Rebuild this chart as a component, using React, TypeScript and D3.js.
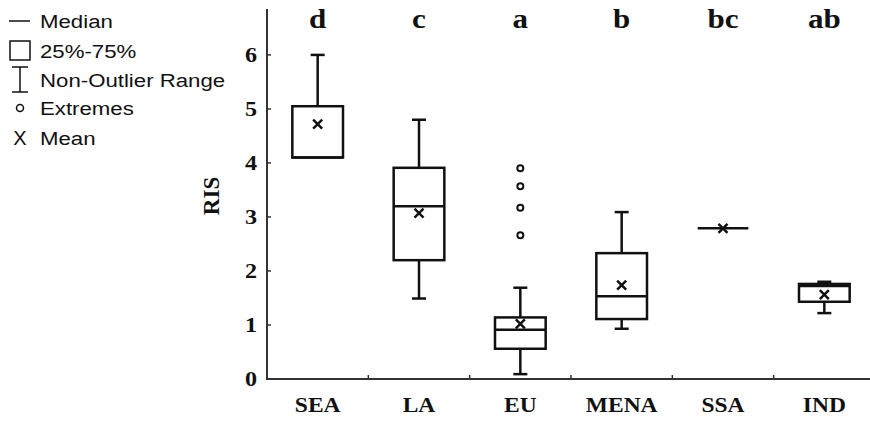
import React, { useEffect, useRef } from 'react';
import * as d3 from 'd3';

const categories = ['SEA', 'LA', 'EU', 'MENA', 'SSA', 'IND'];
const groupLetters = ['d', 'c', 'a', 'b', 'bc', 'ab'];
const whiskerLow = [4.1, 1.49, 0.09, 0.93, 2.79, 1.22];
const q1 = [4.1, 2.2, 0.56, 1.11, 2.79, 1.43];
const median = [4.1, 3.2, 0.91, 1.53, 2.79, 1.72];
const q3 = [5.05, 3.91, 1.14, 2.33, 2.79, 1.76];
const whiskerHigh = [6.0, 4.8, 1.69, 3.09, 2.79, 1.8];
const means = [4.72, 3.07, 1.02, 1.74, 2.79, 1.56];
const extremes = [[], [], [2.66, 3.17, 3.57, 3.9], [], [], []];
const yTicks = [0, 1, 2, 3, 4, 5, 6];
const legendItems = ['Median', '25%-75%', 'Non-Outlier Range', 'Extremes', 'Mean'];

export default function App() {
  const svgRef = useRef<SVGSVGElement>(null);

  useEffect(() => {
    document.body.style.margin = '0';
    if (!svgRef.current) return;
    const svg = d3.select(svgRef.current);
    svg.selectAll('*').remove();

    const serif = '"Liberation Serif", "Times New Roman", serif';
    const sans = '"Liberation Sans", Arial, sans-serif';
    const ink = '#111';

    // the original picture is slightly stretched sideways, so text gets a small x-scale
    const label = (
      px: number, py: number, t: string | number, size: number, family: string,
      anchor: string, sx: number, bold = true,
    ) =>
      svg.append('text')
        .attr('transform', `translate(${px},${py}) scale(${sx},1)`)
        .attr('dy', '0.35em').attr('text-anchor', anchor)
        .attr('font-family', family).attr('font-weight', bold ? 'bold' : 'normal')
        .attr('font-size', size).attr('fill', ink).text(t);

    const x = d3.scaleBand<string>().domain(categories).range([267, 875]).padding(0);
    const y = d3.scaleLinear().domain([0, 6.85]).range([379, 9]);
    const bw = x.bandwidth() * 0.5;
    const capW = 14;
    const cx = (i: number) => x(categories[i])! + x.bandwidth() / 2;

    // axes
    svg.append('line').attr('x1', 267).attr('x2', 267).attr('y1', y(6.85)).attr('y2', y(0))
      .attr('stroke', '#333').attr('stroke-width', 2);
    svg.append('line').attr('x1', 266).attr('x2', 870).attr('y1', y(0)).attr('y2', y(0))
      .attr('stroke', '#333').attr('stroke-width', 2);

    yTicks.forEach((t) => {
      svg.append('line').attr('x1', 267).attr('x2', 271).attr('y1', y(t)).attr('y2', y(t))
        .attr('stroke', '#333').attr('stroke-width', 1.5);
      label(257, y(t), t, 21, serif, 'end', 1.15);
    });

    categories.forEach((c, i) => {
      const bx = x(c)!;
      if (i > 0) {
        svg.append('line').attr('x1', bx).attr('x2', bx).attr('y1', y(0)).attr('y2', y(0) - 4)
          .attr('stroke', '#333').attr('stroke-width', 1.5);
      }
      label(cx(i), 405, c, 21, serif, 'middle', 1.12);
      label(cx(i), 19, groupLetters[i], 27, serif, 'middle', 1.15);
    });

    svg.append('text').attr('transform', `translate(219,196) rotate(-90)`)
      .attr('text-anchor', 'middle').attr('font-family', serif).attr('font-weight', 'bold')
      .attr('font-size', 23).attr('fill', ink).text('RIS');

    // boxes
    const g = svg.append('g').attr('stroke', ink).attr('stroke-width', 2.5).attr('fill', 'none');
    categories.forEach((_, i) => {
      const c = cx(i);
      // whiskers
      g.append('line').attr('x1', c).attr('x2', c).attr('y1', y(q3[i])).attr('y2', y(whiskerHigh[i]));
      g.append('line').attr('x1', c).attr('x2', c).attr('y1', y(q1[i])).attr('y2', y(whiskerLow[i]));
      if (whiskerHigh[i] > q3[i]) {
        g.append('line').attr('x1', c - capW / 2).attr('x2', c + capW / 2)
          .attr('y1', y(whiskerHigh[i])).attr('y2', y(whiskerHigh[i]));
      }
      if (whiskerLow[i] < q1[i]) {
        g.append('line').attr('x1', c - capW / 2).attr('x2', c + capW / 2)
          .attr('y1', y(whiskerLow[i])).attr('y2', y(whiskerLow[i]));
      }
      // box
      g.append('rect').attr('x', c - bw / 2).attr('width', bw)
        .attr('y', y(q3[i])).attr('height', y(q1[i]) - y(q3[i])).attr('fill', 'white');
      g.append('line').attr('x1', c - bw / 2).attr('x2', c + bw / 2)
        .attr('y1', y(median[i])).attr('y2', y(median[i]));
      // mean
      const my = y(means[i]);
      const s = 4.5;
      g.append('path').attr('d', `M${c - s},${my - s}L${c + s},${my + s}M${c - s},${my + s}L${c + s},${my - s}`);
      // extremes
      extremes[i].forEach((v) => {
        g.append('circle').attr('cx', c).attr('cy', y(v)).attr('r', 3).attr('stroke-width', 2);
      });
    });

    // legend
    const rowY = [21, 51, 80, 108, 138];
    legendItems.forEach((t, i) => {
      label(40, rowY[i], t, 19, sans, 'start', 1.17, false);
    });
    svg.append('line').attr('x1', 9).attr('x2', 30).attr('y1', rowY[0]).attr('y2', rowY[0])
      .attr('stroke', ink).attr('stroke-width', 1.5);
    svg.append('rect').attr('x', 10).attr('y', 41).attr('width', 20).attr('height', 19)
      .attr('fill', 'none').attr('stroke', ink).attr('stroke-width', 1.5);
    svg.append('path').attr('d', 'M12,67H28M20,67V92M12,92H28')
      .attr('fill', 'none').attr('stroke', ink).attr('stroke-width', 1.5);
    svg.append('circle').attr('cx', 20).attr('cy', rowY[3]).attr('r', 3.5)
      .attr('fill', 'none').attr('stroke', ink).attr('stroke-width', 1.5);
    label(20, rowY[4], 'X', 20, sans, 'middle', 1, false);
  }, []);

  return <svg ref={svgRef} width={870} height={422} style={{ display: 'block', background: 'white' }} />;
}
